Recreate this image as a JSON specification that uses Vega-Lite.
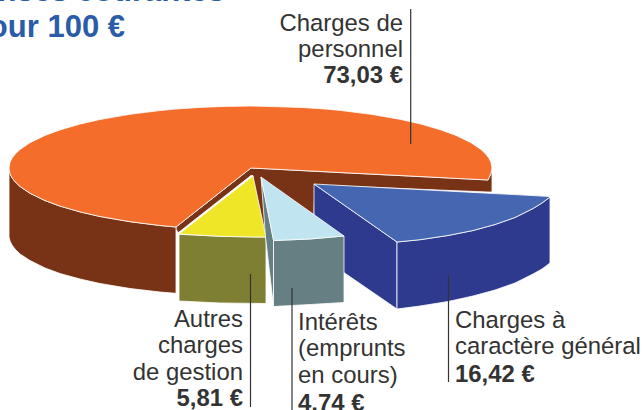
{"$schema":"https://vega.github.io/schema/vega-lite/v6.json","width":644,"height":410,"padding":0,"autosize":"none","background":"white","config":{"view":{"stroke":null}},
"datasets":{
"shapes":[
{"part":"a_inner","x":176,"y":227,"y2":229.5},{"part":"a_inner","x":178.5,"y":225,"y2":232.5},{"part":"a_inner","x":251,"y":168,"y2":175.5},{"part":"a_inner","x":253,"y":168.1,"y2":175.5},{"part":"a_inner","x":254,"y":168.2,"y2":240},{"part":"a_inner","x":265,"y":168.7,"y2":240},{"part":"a_inner","x":313,"y":171.2,"y2":240},{"part":"a_inner","x":315,"y":171.3,"y2":185},{"part":"a_inner","x":488,"y":180,"y2":192},{"part":"a_inner","x":489,"y":177.7,"y2":192},{"part":"a_inner","x":491,"y":173.6,"y2":192},{"part":"a_inner","x":492,"y":168,"y2":192},
{"part":"b_side","x":9,"y":168,"y2":237},{"part":"b_side","x":10,"y":173.6,"y2":241},{"part":"b_side","x":12,"y":177.7,"y2":245},{"part":"b_side","x":15,"y":181.7,"y2":249},{"part":"b_side","x":20,"y":186.5,"y2":254},{"part":"b_side","x":30,"y":193.3,"y2":260.5},{"part":"b_side","x":45,"y":200.6,"y2":268},{"part":"b_side","x":60,"y":206.1,"y2":273.5},{"part":"b_side","x":80,"y":211.9,"y2":279},{"part":"b_side","x":100,"y":216.5,"y2":283.5},{"part":"b_side","x":130,"y":221.7,"y2":288.5},{"part":"b_side","x":160,"y":225.5,"y2":292},{"part":"b_side","x":176,"y":227,"y2":293.3},
{"part":"c_personnel","x":9,"y":168,"y2":168},{"part":"c_personnel","x":10,"y":162.4,"y2":173.6},{"part":"c_personnel","x":12,"y":158.3,"y2":177.7},{"part":"c_personnel","x":15,"y":154.3,"y2":181.7},{"part":"c_personnel","x":20,"y":149.5,"y2":186.5},{"part":"c_personnel","x":30,"y":142.7,"y2":193.3},{"part":"c_personnel","x":45,"y":135.4,"y2":200.6},{"part":"c_personnel","x":60,"y":129.9,"y2":206.1},{"part":"c_personnel","x":80,"y":124.1,"y2":211.9},{"part":"c_personnel","x":100,"y":119.5,"y2":216.5},{"part":"c_personnel","x":130,"y":114.3,"y2":221.7},{"part":"c_personnel","x":160,"y":110.5,"y2":225.5},{"part":"c_personnel","x":176,"y":109,"y2":227},{"part":"c_personnel","x":200,"y":107.4,"y2":208.1},{"part":"c_personnel","x":225,"y":106.4,"y2":188.4},{"part":"c_personnel","x":251,"y":106,"y2":168},{"part":"c_personnel","x":301,"y":107.4,"y2":170.5},{"part":"c_personnel","x":325,"y":109,"y2":171.7},{"part":"c_personnel","x":341,"y":110.5,"y2":172.6},{"part":"c_personnel","x":371,"y":114.3,"y2":174.1},{"part":"c_personnel","x":401,"y":119.5,"y2":175.6},{"part":"c_personnel","x":421,"y":124.1,"y2":176.6},{"part":"c_personnel","x":441,"y":129.9,"y2":177.6},{"part":"c_personnel","x":456,"y":135.4,"y2":178.4},{"part":"c_personnel","x":471,"y":142.7,"y2":179.1},{"part":"c_personnel","x":481,"y":149.5,"y2":179.6},{"part":"c_personnel","x":486,"y":154.3,"y2":179.9},{"part":"c_personnel","x":488,"y":157,"y2":180},{"part":"c_personnel","x":489,"y":158.3,"y2":177.7},{"part":"c_personnel","x":491,"y":162.4,"y2":173.6},{"part":"c_personnel","x":492,"y":168,"y2":168},
{"part":"d_general_wall","x":314,"y":184,"y2":252},{"part":"d_general_wall","x":397,"y":242,"y2":309},
{"part":"e_general_front","x":397,"y":242,"y2":309},{"part":"e_general_front","x":420,"y":239.7,"y2":306},{"part":"e_general_front","x":448,"y":235.5,"y2":301.5},{"part":"e_general_front","x":473,"y":230.5,"y2":296},{"part":"e_general_front","x":495,"y":224.5,"y2":290},{"part":"e_general_front","x":515,"y":217.5,"y2":283},{"part":"e_general_front","x":533,"y":208.5,"y2":274},{"part":"e_general_front","x":542,"y":203,"y2":269},{"part":"e_general_front","x":550,"y":197,"y2":263},
{"part":"f_general","x":314,"y":184,"y2":184},{"part":"f_general","x":397,"y":188.4,"y2":242},{"part":"f_general","x":420,"y":189.6,"y2":239.7},{"part":"f_general","x":448,"y":191.1,"y2":235.5},{"part":"f_general","x":473,"y":192.4,"y2":230.5},{"part":"f_general","x":495,"y":193.6,"y2":224.5},{"part":"f_general","x":515,"y":194.6,"y2":217.5},{"part":"f_general","x":533,"y":195.6,"y2":208.5},{"part":"f_general","x":542,"y":196.1,"y2":203},{"part":"f_general","x":550,"y":196.5,"y2":197},
{"part":"g_gestion_front","x":179,"y":234.3,"y2":301},{"part":"g_gestion_front","x":220,"y":236.3,"y2":303},{"part":"g_gestion_front","x":266,"y":237.2,"y2":303.5},
{"part":"h_gestion","x":179,"y":234,"y2":234},{"part":"h_gestion","x":220,"y":201.9,"y2":236.3},{"part":"h_gestion","x":253,"y":176,"y2":237},{"part":"h_gestion","x":266,"y":237,"y2":237},
{"part":"i_interets_wall","x":261,"y":177,"y2":177},{"part":"i_interets_wall","x":265.5,"y":198.8,"y2":237},{"part":"i_interets_wall","x":273.5,"y":240,"y2":306},
{"part":"j_interets_front","x":273.5,"y":240.5,"y2":306.5},{"part":"j_interets_front","x":310,"y":239,"y2":304.5},{"part":"j_interets_front","x":344,"y":236,"y2":302.5},
{"part":"k_interets","x":261,"y":177,"y2":177},{"part":"k_interets","x":273.5,"y":185.9,"y2":240.5},{"part":"k_interets","x":310,"y":211.8,"y2":239},{"part":"k_interets","x":344,"y":236,"y2":236}
],
"leaders":[{"x":410.7,"y":9,"y2":144},{"x":250.5,"y":274,"y2":407},{"x":292,"y":288,"y2":410},{"x":448.5,"y":275,"y2":382}],
"rightText":[{"x":403,"y":31,"t":"Charges de"},{"x":403,"y":57,"t":"personnel"},{"x":243,"y":327,"t":"Autres"},{"x":243,"y":353,"t":"charges"},{"x":243,"y":380,"t":"de gestion"}],
"rightBold":[{"x":403,"y":83,"t":"73,03 €"},{"x":243,"y":406,"t":"5,81 €"}],
"leftText":[{"x":298,"y":330,"t":"Intérêts"},{"x":298,"y":356,"t":"(emprunts"},{"x":298,"y":383,"t":"en cours)"},{"x":455,"y":328,"t":"Charges à"},{"x":455,"y":354,"t":"caractère général"}],
"leftBold":[{"x":298,"y":411,"t":"4,74 €"},{"x":455,"y":382,"t":"16,42 €"}],
"title":[{"x":225,"y":1,"t":"Dépenses courantes"},{"x":125,"y":37,"t":"pour 100 €"}]
},
"layer":[
{"data":{"name":"shapes"},"mark":{"type":"area","stroke":"white","strokeWidth":0.8,"opacity":1,"interpolate":"linear"},
"encoding":{"x":{"field":"x","type":"quantitative","scale":{"domain":[0,644],"range":[0,644]},"axis":null},"y":{"field":"y","type":"quantitative","scale":{"domain":[0,410],"range":[0,410]},"axis":null},"y2":{"field":"y2"},
"color":{"field":"part","type":"nominal","legend":null,"scale":{"domain":["a_inner","b_side","c_personnel","d_general_wall","e_general_front","f_general","g_gestion_front","h_gestion","i_interets_wall","j_interets_front","k_interets"],"range":["#783216","#783216","#f46d2b","#2d3a8e","#2d3a8e","#4566b0","#7f7f33","#eee626","#657f82","#657f82","#c0e5f0"]}}}},
{"data":{"name":"leaders"},"mark":{"type":"rule","color":"#333333","strokeWidth":1.2},"encoding":{"x":{"field":"x","type":"quantitative","scale":{"domain":[0,644],"range":[0,644]},"axis":null},"y":{"field":"y","type":"quantitative","scale":{"domain":[0,410],"range":[0,410]},"axis":null},"y2":{"field":"y2"}}},
{"data":{"name":"rightText"},"mark":{"type":"text","align":"right","baseline":"alphabetic","font":"Liberation Sans","fontSize":23.9,"color":"#333333"},"encoding":{"x":{"field":"x","type":"quantitative","scale":{"domain":[0,644],"range":[0,644]},"axis":null},"y":{"field":"y","type":"quantitative","scale":{"domain":[0,410],"range":[0,410]},"axis":null},"text":{"field":"t"}}},
{"data":{"name":"rightBold"},"mark":{"type":"text","align":"right","baseline":"alphabetic","font":"Liberation Sans","fontWeight":"bold","fontSize":23.9,"color":"#333333"},"encoding":{"x":{"field":"x","type":"quantitative","scale":{"domain":[0,644],"range":[0,644]},"axis":null},"y":{"field":"y","type":"quantitative","scale":{"domain":[0,410],"range":[0,410]},"axis":null},"text":{"field":"t"}}},
{"data":{"name":"leftText"},"mark":{"type":"text","align":"left","baseline":"alphabetic","font":"Liberation Sans","fontSize":23.9,"color":"#333333"},"encoding":{"x":{"field":"x","type":"quantitative","scale":{"domain":[0,644],"range":[0,644]},"axis":null},"y":{"field":"y","type":"quantitative","scale":{"domain":[0,410],"range":[0,410]},"axis":null},"text":{"field":"t"}}},
{"data":{"name":"leftBold"},"mark":{"type":"text","align":"left","baseline":"alphabetic","font":"Liberation Sans","fontWeight":"bold","fontSize":23.9,"color":"#333333"},"encoding":{"x":{"field":"x","type":"quantitative","scale":{"domain":[0,644],"range":[0,644]},"axis":null},"y":{"field":"y","type":"quantitative","scale":{"domain":[0,410],"range":[0,410]},"axis":null},"text":{"field":"t"}}},
{"data":{"name":"title"},"mark":{"type":"text","align":"right","baseline":"alphabetic","font":"Liberation Sans","fontWeight":"bold","fontSize":31,"color":"#2a5ca8"},"encoding":{"x":{"field":"x","type":"quantitative","scale":{"domain":[0,644],"range":[0,644]},"axis":null},"y":{"field":"y","type":"quantitative","scale":{"domain":[0,410],"range":[0,410]},"axis":null},"text":{"field":"t"}}}
]}
